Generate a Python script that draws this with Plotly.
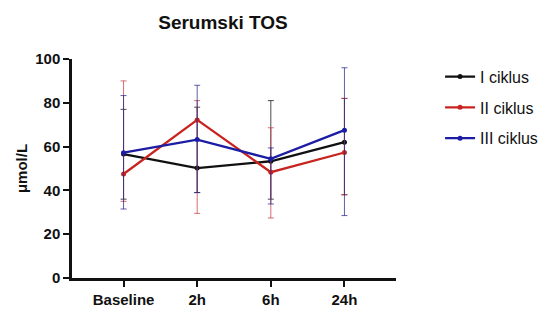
import plotly.graph_objects as go

categories = ["Baseline", "2h", "6h", "24h"]
series_names = ["I ciklus", "II ciklus", "III ciklus"]

mean_1 = [56.6, 50.2, 53.3, 62.0]
upper_1 = [77.0, 78.0, 81.0, 82.0]
lower_1 = [36.0, 39.0, 36.0, 38.0]

mean_2 = [47.5, 72.2, 48.3, 57.3]
upper_2 = [90.0, 81.0, 68.6, 82.0]
lower_2 = [35.0, 29.5, 27.4, 38.0]

mean_3 = [57.2, 63.2, 54.4, 67.5]
upper_3 = [83.3, 88.0, 59.4, 96.0]
lower_3 = [31.5, 39.0, 33.8, 28.5]

colors = ["#111111", "#c8231f", "#1c1ca4"]
err_colors = ["rgba(30,30,30,0.8)", "rgba(200,60,70,0.75)", "rgba(40,40,140,0.75)"]

FONT = "Arial, Liberation Sans, sans-serif"

fig = go.Figure()
for name, m, up, lo, c, ec in zip(series_names, [mean_1, mean_2, mean_3],
                                  [upper_1, upper_2, upper_3],
                                  [lower_1, lower_2, lower_3], colors, err_colors):
    fig.add_trace(go.Scatter(
        x=list(range(len(categories))), y=m, name=name, legendgroup=name,
        mode="lines+markers",
        line=dict(color=c, width=2.3),
        marker=dict(color=c, size=5),
        error_y=dict(type="data", symmetric=False,
                     array=[u - v for u, v in zip(up, m)],
                     arrayminus=[v - l for v, l in zip(m, lo)],
                     color=ec, thickness=1, width=3),
    ))

fig.update_layout(
    width=555, height=320,
    margin=dict(l=72, r=152, t=59, b=32),
    paper_bgcolor="white", plot_bgcolor="white",
    font=dict(family=FONT, color="#111111"),
    title=dict(text="Serumski TOS", x=223 / 555, xanchor="center", y=1 - 22 / 320,
               yanchor="middle", font=dict(size=19, weight="bold", family=FONT, color="#111111")),
    legend=dict(x=1.136, xanchor="left", y=0.997, yanchor="top",
                font=dict(size=16, family=FONT, color="#111111"),
                tracegroupgap=7, bgcolor="rgba(0,0,0,0)"),
    showlegend=True,
)
fig.update_xaxes(
    range=[-0.7, 3.7], tickmode="array", tickvals=list(range(len(categories))),
    ticktext=categories, showgrid=False, zeroline=False,
    showline=True, linecolor="#111111", linewidth=2.5,
    ticks="outside", ticklen=6, tickwidth=2, tickcolor="#111111",
    tickfont=dict(size=15, weight="bold", family=FONT, color="#111111"),
)
fig.update_yaxes(
    range=[0, 100], tickvals=[0, 20, 40, 60, 80, 100], showgrid=False, zeroline=False,
    showline=True, linecolor="#111111", linewidth=2.5,
    ticks="outside", ticklen=6, tickwidth=2, tickcolor="#111111",
    tickfont=dict(size=15, weight="bold", family=FONT, color="#111111"),
    title=dict(text="μmol/L", font=dict(size=15, weight="bold", family=FONT, color="#111111"),
               standoff=4),
)

fig.write_html("out.html")
